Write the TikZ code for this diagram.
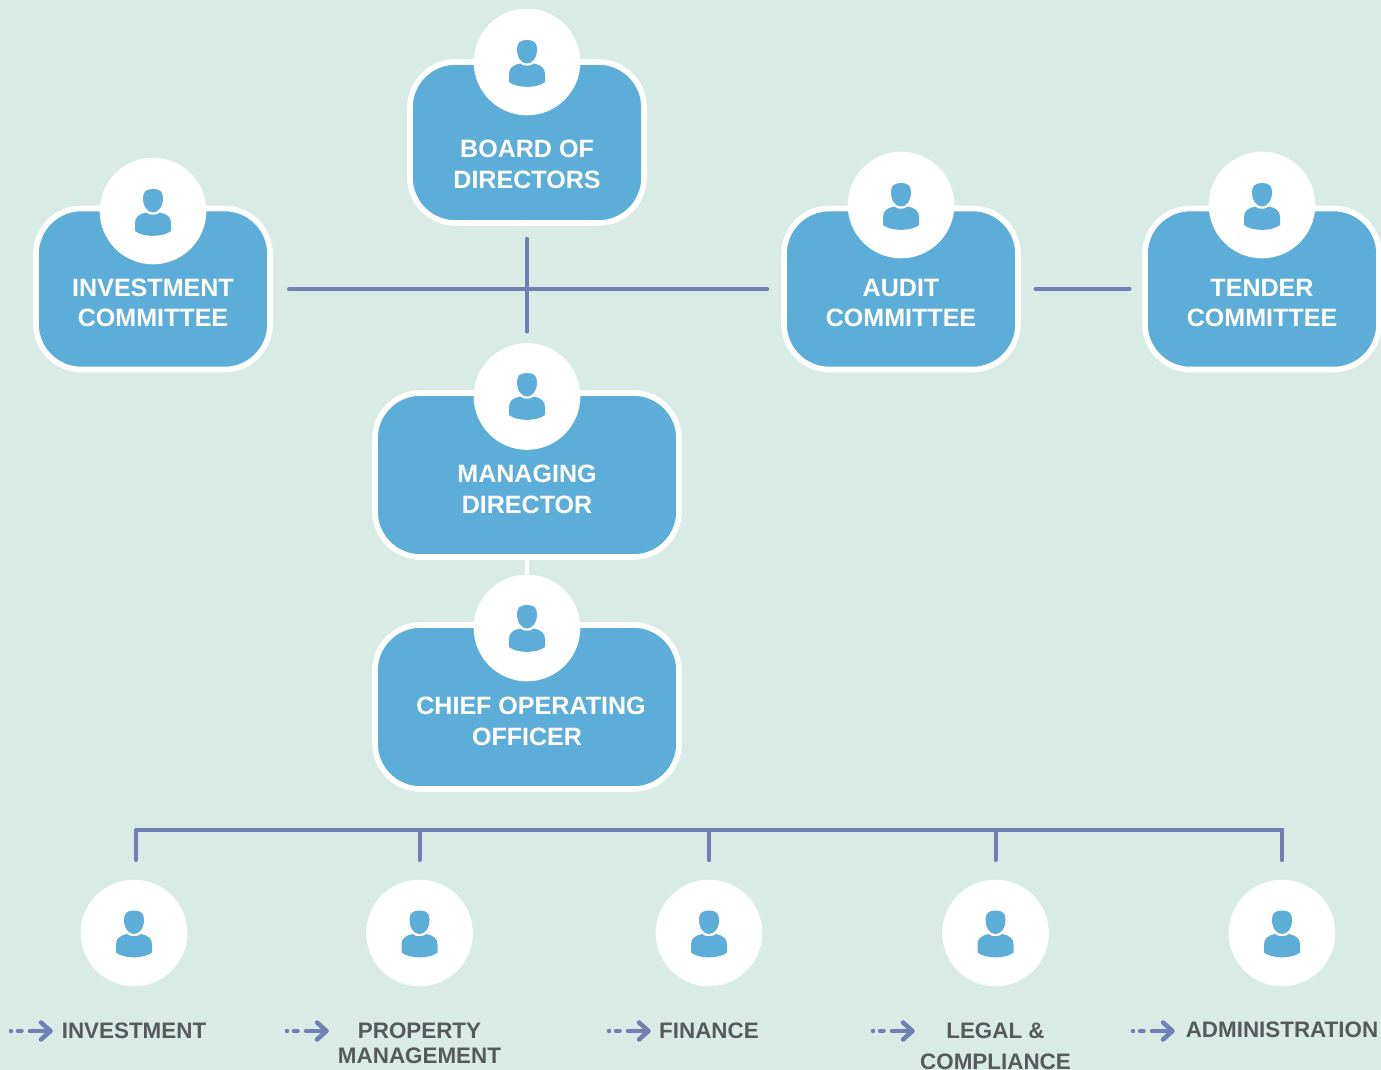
\documentclass[tikz,border=0pt]{standalone}
\usepackage{fontspec}
\setmainfont{Liberation Sans}
\definecolor{bgc}{HTML}{D8ECE5}
\definecolor{boxc}{HTML}{5DADD9}
\definecolor{linec}{HTML}{7080B2}
\definecolor{textc}{HTML}{58595B}
\tikzset{
  boxnode/.style={draw=white,fill=boxc,line width=4.2pt,rounded corners=34pt,minimum height=120.75pt,inner sep=0pt},
  smallbox/.style={boxnode,minimum width=175.5pt},
  widebox/.style={boxnode,minimum width=228pt,minimum height=123pt},
  disc/.style={circle,fill=white,minimum size=80pt,inner sep=0pt},
  boxlabel/.style={text=white,align=center,inner sep=0pt,font=\bfseries\fontsize{18.8pt}{23.25pt}\selectfont},
  tightlabel/.style={boxlabel,font=\bfseries\fontsize{18.8pt}{22.5pt}\selectfont},
  deptlabel/.style={text=textc,align=center,inner sep=0pt,font=\bfseries\fontsize{16.8pt}{19pt}\selectfont},
  linkline/.style={linec,line width=3pt,line cap=round},
  person/.pic={
    \fill[boxc] (0,-22) .. controls (7,-22) and (10,-19) .. (10,-13)
      .. controls (10,-5) and (6,1.5) .. (0,1.5)
      .. controls (-6,1.5) and (-10,-5) .. (-10,-13)
      .. controls (-10,-19) and (-7,-22) .. (0,-22) -- cycle;
    \fill[boxc] (-18,20) -- (-18,12) .. controls (-18,6) and (-14,3) .. (-7,1.5)
      .. controls (-4,4.5) and (4,4.5) .. (7,1.5)
      .. controls (14,3) and (18,6) .. (18,12) -- (18,20)
      .. controls (10,26.5) and (-10,26.5) .. (-18,20) -- cycle;
  },
  dasharrow/.pic={
    \fill[linec] (2,0) circle (2.2);
    \draw[linec,line width=3.4pt,line cap=round] (9,0) -- (12.5,0);
    \draw[linec,line width=3.4pt,line cap=round] (21,0) -- (40,0);
    \draw[linec,line width=3.4pt,line cap=round,line join=round] (32,-8.5) -- (41.5,0) -- (32,8.5);
  }
}
\begin{document}
\begin{tikzpicture}[x=0.75pt,y=-0.75pt]
\useasboundingbox (0,0) rectangle (1381,1070);
\clip (0,0) rectangle (1381,1070);
\fill[bgc] (0,0) rectangle (1381,1070);

% boxes
\node[smallbox] (board) at (527,142.5) {};
\node[smallbox] (inv) at (153,289) {};
\node[smallbox] (audit) at (901,289) {};
\node[smallbox] (tender) at (1262,289) {};
\node[widebox] (md) at (527,475) {};
\node[widebox] (coo) at (527,707) {};

% discs
\node[disc] (cboard) at (527,62) {};
\node[disc] (cinv) at (153,211) {};
\node[disc] (caudit) at (901,205) {};
\node[disc] (ctender) at (1262,205) {};
\node[disc] (cmd) at (527,396.5) {};
\node[disc] (ccoo) at (527,628) {};
\node[disc] (d1) at (134,933) {};
\node[disc] (d2) at (419.5,933) {};
\node[disc] (d3) at (709,933) {};
\node[disc] (d4) at (995.5,933) {};
\node[disc] (d5) at (1282,933) {};

% connectors
\draw[white,line width=3pt] (md.south) -- (ccoo.north);
\draw[linkline,shorten <=12.25pt,shorten >=10.5pt] (inv.east) -- (audit.west);
\draw[linkline,shorten <=9.75pt,shorten >=8.5pt] (board.south) -- (cmd.north);
\draw[linkline,shorten <=11pt,shorten >=9.5pt] (audit.east) -- (tender.west);

\coordinate (busa) at (136,830);
\coordinate (busb) at (1282,830);
\coordinate (busd2) at (419.5,830);
\coordinate (busd3) at (709,830);
\coordinate (busd4) at (995.5,830);
\draw[linec,line width=3pt,line cap=round,line join=miter,shorten >=14.5pt] (busa) -- (busb) -- (d5.north);
\draw[linkline] (busa) -- (136,860);
\draw[linkline,shorten >=14.5pt] (busd2) -- (d2.north);
\draw[linkline,shorten >=14.5pt] (busd3) -- (d3.north);
\draw[linkline,shorten >=14.5pt] (busd4) -- (d4.north);

% icons
\foreach \c/\dy in {cboard/0,cinv/0,caudit/0,ctender/0,cmd/-1.5,ccoo/-1,d1/-0.5,d2/-0.5,d3/-0.5,d4/-0.5,d5/-0.5}
  \pic[yshift=-\dy*0.75pt] at (\c) {person};

% labels in boxes
\node[boxlabel] (lboard) at (527,164.5) {BOARD OF\\DIRECTORS};
\node[tightlabel] (linv) at (153,303) {INVESTMENT\\COMMITTEE};
\node[tightlabel] (laudit) at (901,303) {AUDIT\\COMMITTEE};
\node[tightlabel] (ltender) at (1262,303) {TENDER\\COMMITTEE};
\node[boxlabel] (lmd) at (527,489.5) {MANAGING\\DIRECTOR};
\node[boxlabel] (lcoo) at (531,721.5) {CHIEF OPERATING\\\hspace*{-6pt}OFFICER};

% bottom
\pic at (9,1031) {dasharrow};
\pic at (285,1031) {dasharrow};
\pic at (607,1031) {dasharrow};
\pic at (871,1031) {dasharrow};
\pic at (1131,1031) {dasharrow};
\node[deptlabel,anchor=base] (t1) at (134,1038) {INVESTMENT};
\node[deptlabel,anchor=base] (t2) at (419.5,1038) {PROPERTY};
\node[deptlabel,anchor=base] (t2b) at (419.5,1063) {MANAGEMENT};
\node[deptlabel,anchor=base] (t3) at (709,1038) {FINANCE};
\node[deptlabel,anchor=base] (t4) at (995.5,1038) {LEGAL \&};
\node[deptlabel,anchor=base] (t4b) at (995.5,1069) {COMPLIANCE};
\node[deptlabel,anchor=base] (t5) at (1282,1037) {ADMINISTRATION};
\end{tikzpicture}
\end{document}
